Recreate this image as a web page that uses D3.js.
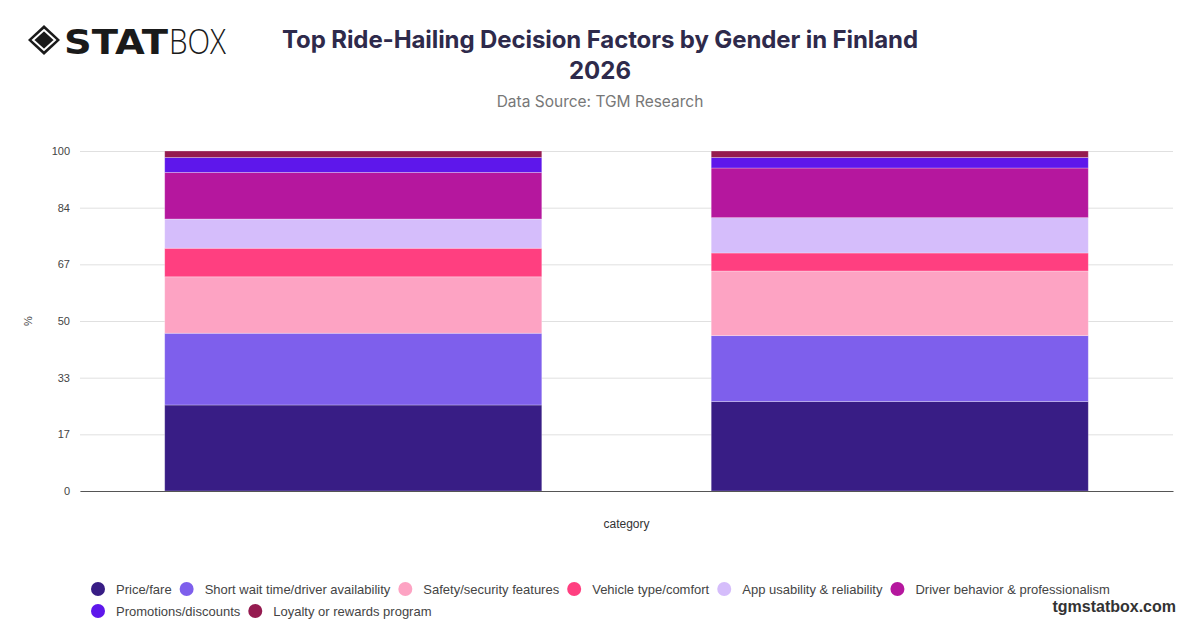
<!DOCTYPE html>
<html>
<head>
<meta charset="utf-8">
<script src="https://cdn.jsdelivr.net/npm/d3@7"></script>
<style>
  html, body { margin: 0; padding: 0; background: #fff; }
  svg { display: block; font-family: Inter, "Noto Sans", sans-serif; }
</style>
</head>
<body>
<svg id="chart" width="1200" height="628"></svg>
<script>
// 数据
const categories = ['Male', 'Female'];
const seriesNames = [
  'Price/fare',
  'Short wait time/driver availability',
  'Safety/security features',
  'Vehicle type/comfort',
  'App usability & reliability',
  'Driver behavior & professionalism',
  'Promotions/discounts',
  'Loyalty or rewards program'
];
const maleValues   = [25.3, 21.1, 16.6, 8.4, 8.6, 13.7, 4.4, 1.9];
const femaleValues = [26.3, 19.4, 19.0, 5.3, 10.4, 14.6, 3.1, 1.9];
const seriesColors = ['#381d85', '#7e5fec', '#fda3c3', '#ff3f80', '#d5bdfb', '#b5179e', '#5e17eb', '#951b50'];
const yTickLabels = ['0', '17', '33', '50', '67', '84', '100'];

// 布局
const margin = { top: 151, right: 27, bottom: 137, left: 80 };
const width = 1200, height = 628;
const innerW = width - margin.left - margin.right;
const innerH = height - margin.top - margin.bottom;

const svg = d3.select('#chart');

// 标志
const logo = svg.append('g').attr('transform', 'translate(28,25)');
logo.append('path')
  .attr('d', 'M16,0 L32,15 L16,30 L0,15 Z')
  .attr('fill', '#1a1a1a');
logo.append('path')
  .attr('d', 'M16,5 L27,15 L16,25 L5,15 Z')
  .attr('fill', 'none').attr('stroke', '#fff').attr('stroke-width', 2);
logo.append('path')
  .attr('d', 'M16,9 L22.5,15 L16,21 L9.5,15 Z')
  .attr('fill', '#1a1a1a');
logo.append('text')
  .attr('x', 36).attr('y', 29)
  .attr('font-family', '"DejaVu Sans", sans-serif')
  .attr('font-size', 33).attr('font-weight', 900)
  .attr('fill', '#1a1a1a')
  .attr('textLength', 104).attr('lengthAdjust', 'spacingAndGlyphs')
  .text('STAT');
logo.append('text')
  .attr('x', 141).attr('y', 29)
  .attr('font-family', '"Open Sans", sans-serif')
  .attr('font-size', 35).attr('font-weight', 300)
  .attr('fill', '#1a1a1a')
  .attr('textLength', 57).attr('lengthAdjust', 'spacingAndGlyphs')
  .text('BOX');

// 标题
svg.append('text')
  .attr('x', 600).attr('y', 48)
  .attr('text-anchor', 'middle')
  .attr('font-size', 24).attr('font-weight', 700)
  .attr('fill', '#2e2a4b')
  .attr('letter-spacing', -0.1)
  .text('Top Ride-Hailing Decision Factors by Gender in Finland');
svg.append('text')
  .attr('x', 600).attr('y', 79)
  .attr('text-anchor', 'middle')
  .attr('font-size', 24).attr('font-weight', 700)
  .attr('fill', '#2e2a4b')
  .text('2026');
svg.append('text')
  .attr('x', 600).attr('y', 107)
  .attr('text-anchor', 'middle')
  .attr('font-size', 15.5)
  .attr('fill', '#777')
  .text('Data Source: TGM Research');

const g = svg.append('g').attr('transform', `translate(${margin.left},${margin.top})`);

// 比例尺
const x = d3.scaleBand()
  .domain(categories)
  .range([0, innerW])
  .paddingInner(0.31)
  .paddingOuter(0.155);
const y = d3.scaleLinear().domain([0, 100]).range([innerH, 0]);
const yTicks = yTickLabels.map((d, i) => i * 100 / (yTickLabels.length - 1));

// 网格线和Y轴
const yAxis = g.append('g')
  .call(d3.axisLeft(y).tickValues(yTicks).tickSize(-innerW).tickPadding(10)
    .tickFormat((d, i) => yTickLabels[i]));
yAxis.select('.domain').remove();
yAxis.selectAll('.tick line').attr('stroke', '#e0e0e0');
yAxis.selectAll('.tick text')
  .attr('fill', '#444').attr('font-size', 11)
  .attr('font-family', '"Liberation Sans", Arial, sans-serif');

svg.append('text')
  .attr('transform', `translate(32,${margin.top + innerH / 2}) rotate(-90)`)
  .attr('text-anchor', 'middle')
  .attr('font-size', 11).attr('fill', '#444')
  .attr('font-family', '"Liberation Sans", Arial, sans-serif')
  .text('%');

// 堆叠数据
const rows = categories.map((c, i) => {
  const vals = i === 0 ? maleValues : femaleValues;
  const row = { category: c };
  seriesNames.forEach((s, j) => { row[s] = vals[j]; });
  return row;
});
const stacked = d3.stack().keys(seriesNames)(rows);

g.selectAll('.series')
  .data(stacked)
  .enter().append('g')
  .attr('class', 'series')
  .attr('fill', (d, i) => seriesColors[i])
  .selectAll('rect')
  .data(d => d)
  .enter().append('rect')
  .attr('x', d => x(d.data.category))
  .attr('width', x.bandwidth())
  .attr('y', d => y(d[1]))
  .attr('height', d => y(d[0]) - y(d[1]))
  .attr('stroke', '#fff')
  .attr('stroke-opacity', 0.35)
  .attr('stroke-width', 0.8);

// X轴
const xAxis = g.append('g')
  .attr('transform', `translate(0,${innerH})`)
  .call(d3.axisBottom(x).tickSize(0).tickFormat(''));
xAxis.select('.domain').attr('stroke', '#555').attr('stroke-width', 1.2);

svg.append('text')
  .attr('x', margin.left + innerW / 2).attr('y', 528)
  .attr('text-anchor', 'middle')
  .attr('font-size', 12).attr('fill', '#333')
  .attr('font-family', '"Liberation Sans", Arial, sans-serif')
  .text('category');

// 图例
const legend = svg.append('g');
let lx = 98, ly = 589;
const maxX = 1130;
seriesNames.forEach((s, i) => {
  const item = legend.append('g');
  item.append('circle').attr('r', 7).attr('fill', seriesColors[i]);
  const t = item.append('text')
    .attr('x', 18).attr('dy', '0.35em')
    .attr('font-size', 13).attr('fill', '#444')
    .attr('font-family', '"Liberation Sans", Arial, sans-serif')
    .text(s);
  const w = 18 + t.node().getComputedTextLength();
  if (lx + w > maxX) { lx = 98; ly += 22; }
  item.attr('transform', `translate(${lx},${ly})`);
  lx += w + 15;
});

svg.append('text')
  .attr('x', 1176).attr('y', 612)
  .attr('text-anchor', 'end')
  .attr('font-size', 16).attr('font-weight', 700)
  .attr('fill', '#333')
  .attr('font-family', '"Liberation Sans", Arial, sans-serif')
  .text('tgmstatbox.com');
</script>
</body>
</html>
